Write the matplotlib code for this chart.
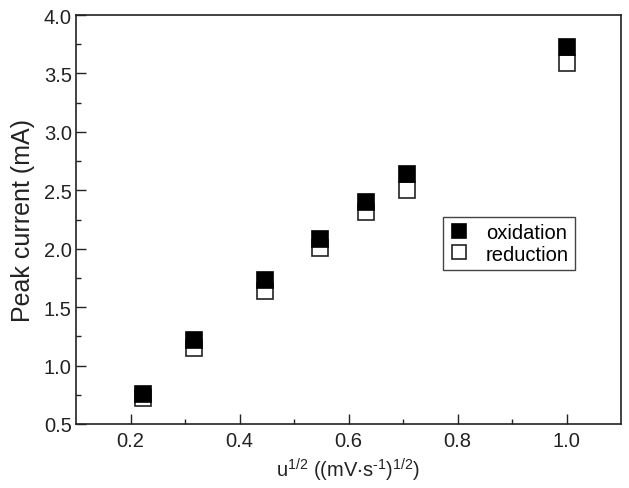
import matplotlib
matplotlib.use("Agg")
import matplotlib.pyplot as plt
import numpy as np

plt.rcParams['font.family'] = ['Liberation Sans', 'DejaVu Sans']
plt.rcParams['mathtext.default'] = 'regular'

x_vals = [0.2236, 0.3162, 0.4472, 0.5477, 0.6325, 0.7071, 1.0]
oxidation = [0.76, 1.22, 1.73, 2.08, 2.40, 2.64, 3.73]
reduction = [0.72, 1.15, 1.64, 2.01, 2.31, 2.50, 3.59]

fig = plt.figure(figsize=(6.29, 4.89), dpi=100)
ax = fig.add_axes([76/629, 1-425/489, 545/629, 409/489])

ax.plot(x_vals, reduction, linestyle='none', marker='s', markersize=11,
        markerfacecolor='white', markeredgecolor='#222222', markeredgewidth=1.2,
        label='reduction', zorder=2)
ax.plot(x_vals, oxidation, linestyle='none', marker='s', markersize=11,
        markerfacecolor='black', markeredgecolor='black', markeredgewidth=1.2,
        label='oxidation', zorder=3)

ax.set_xlim(0.1, 1.1)
ax.set_ylim(0.5, 4.0)
ax.set_xticks([0.2, 0.4, 0.6, 0.8, 1.0])
ax.set_xticks([0.3, 0.5, 0.7, 0.9], minor=True)
ax.set_yticks(np.arange(0.5, 4.01, 0.5))
ax.set_yticks(np.arange(0.75, 4.0, 0.5), minor=True)
ax.xaxis.set_major_formatter(matplotlib.ticker.FormatStrFormatter('%.1f'))
ax.yaxis.set_major_formatter(matplotlib.ticker.FormatStrFormatter('%.1f'))
ax.tick_params(which='both', direction='in', labelsize=14.5, width=1, colors='#222222')
ax.tick_params(axis='y', which='major', pad=3)
ax.tick_params(axis='x', which='major', pad=5)
ax.tick_params(which='major', length=7)
ax.tick_params(which='minor', length=3.5)
for s in ax.spines.values():
    s.set_linewidth(1.2)
    s.set_color('#222222')

ax.set_ylabel('Peak current (mA)', fontsize=18, labelpad=6, color='#222222')
ax.set_xlabel('u$^{1/2}$ ((mV$\\cdot$s$^{\u2010 1}$)$^{1/2}$)', fontsize=14.5,
              labelpad=4, color='#222222')

h, l = ax.get_legend_handles_labels()
leg = ax.legend([h[1], h[0]], [l[1], l[0]], loc='upper left',
                bbox_to_anchor=(0.673, 0.506), fontsize=14.5, fancybox=False,
                edgecolor='#444444', framealpha=1, handlelength=1.0,
                handletextpad=0.85, borderpad=0.3, labelspacing=0.12,
                borderaxespad=0, markerscale=0.9)
leg.get_frame().set_linewidth(1.0)

fig.savefig('out.png', dpi=100)
